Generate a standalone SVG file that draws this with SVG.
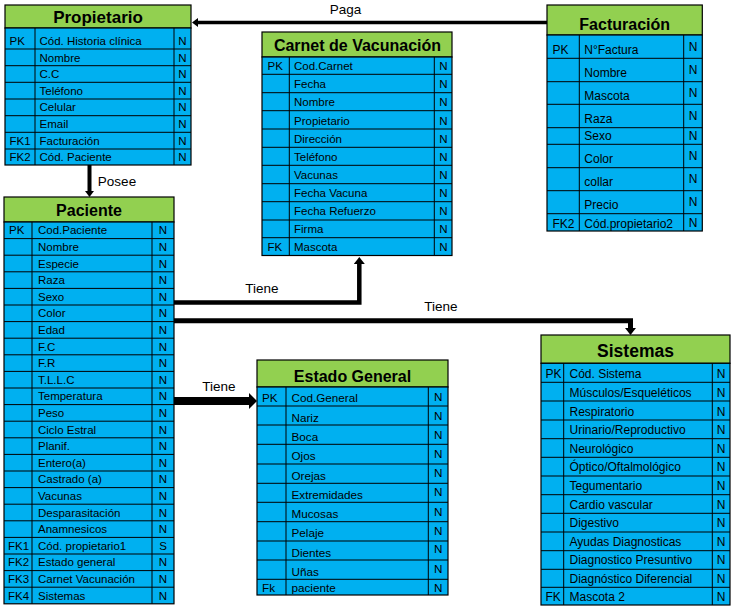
<svg xmlns="http://www.w3.org/2000/svg" width="738" height="613" viewBox="0 0 738 613">
<style>
.hd{fill:#92D050;stroke:#000;stroke-width:1.2}
.bd{fill:#00B0F0;stroke:#000;stroke-width:1.2}
.gl{fill:none;stroke:#000;stroke-width:1}
.tt{font-family:"Liberation Sans",Arial,sans-serif;font-weight:bold;font-size:16px;text-anchor:middle;fill:#000}
.tx{font-family:"Liberation Sans",Arial,sans-serif;font-size:11.5px;fill:#000}
.n{text-anchor:middle}
.cn{fill:none;stroke:#000}
.lb{font-family:"Liberation Sans",Arial,sans-serif;font-size:13.5px;fill:#000;text-anchor:middle}
</style>
<defs>
<marker id="aS" markerUnits="userSpaceOnUse" viewBox="0 0 6 9" markerWidth="6" markerHeight="9" refX="0" refY="4.5" orient="auto"><path d="M0,0L6,4.5L0,9z"/></marker>
<marker id="aM" markerUnits="userSpaceOnUse" viewBox="0 0 7 11" markerWidth="7" markerHeight="11" refX="0" refY="5.5" orient="auto"><path d="M0,0L7,5.5L0,11z"/></marker>
<marker id="aL" markerUnits="userSpaceOnUse" viewBox="0 0 8 16" markerWidth="8" markerHeight="16" refX="0" refY="8" orient="auto"><path d="M0,0L8,8L0,16z"/></marker>
</defs>

<g id="connectors">
<line class="cn" x1="547" y1="22.5" x2="198" y2="22.5" stroke-width="3.5" marker-end="url(#aS)"/>
<line class="cn" x1="89.5" y1="165" x2="89.5" y2="191" stroke-width="4" marker-end="url(#aS)"/>
<polyline class="cn" points="174,302.5 359.3,302.5 359.3,264" stroke-width="4.5" marker-end="url(#aM)"/>
<polyline class="cn" points="174,320.8 630.5,320.8 630.5,328" stroke-width="5" marker-end="url(#aM)"/>
<line class="cn" x1="174" y1="401" x2="249" y2="401" stroke-width="8" marker-end="url(#aL)"/>
<text class="lb" x="345.5" y="14">Paga</text>
<text class="lb" x="117" y="186">Posee</text>
<text class="lb" x="262" y="293">Tiene</text>
<text class="lb" x="441" y="311">Tiene</text>
<text class="lb" x="219" y="391">Tiene</text>
</g>

<g id="propietario">
<rect class="hd" x="5" y="5" width="186" height="23"/>
<rect class="bd" x="5" y="28" width="186" height="137"/>
<path class="gl" d="M5 49H191M5 65.7H191M5 82.3H191M5 99H191M5 115.7H191M5 132.3H191M5 149H191M35 28V165M174 28V165"/>
<text class="tt" x="98" y="23" style="font-size:17px">Propietario</text>
<g class="tx">
<text x="9.5" y="45">PK</text><text x="39.5" y="45">Cód. Historia clínica</text>
<text x="39.5" y="61.7">Nombre</text>
<text x="39.5" y="78">C.C</text>
<text x="39.5" y="94.7">Teléfono</text>
<text x="39.5" y="111.3">Celular</text>
<text x="39.5" y="128">Email</text>
<text x="9.5" y="144.7">FK1</text><text x="39.5" y="144.7">Facturación</text>
<text x="9.5" y="161.3">FK2</text><text x="39.5" y="161.3">Cód. Paciente</text>
</g>
<g class="tx n">
<text x="182.5" y="45">N</text><text x="182.5" y="61.7">N</text><text x="182.5" y="78">N</text><text x="182.5" y="94.7">N</text><text x="182.5" y="111.3">N</text><text x="182.5" y="128">N</text><text x="182.5" y="144.7">N</text><text x="182.5" y="161.3">N</text>
</g>
</g>

<g id="carnet">
<rect class="hd" x="262" y="32" width="190" height="25"/>
<rect class="bd" x="262" y="57" width="190" height="198.5"/>
<path class="gl" d="M262 74.3H452M262 92.7H452M262 110.7H452M262 129H452M262 147.3H452M262 165.3H452M262 183.7H452M262 201.7H452M262 220H452M262 237.7H452M289.3 57V255.5M434.3 57V255.5"/>
<text class="tt" x="357.5" y="51">Carnet de Vacunación</text>
<g class="tx">
<text x="267.5" y="70">PK</text><text x="294" y="70">Cod.Carnet</text>
<text x="294" y="88.3">Fecha</text>
<text x="294" y="106.3">Nombre</text>
<text x="294" y="124.7">Propietario</text>
<text x="294" y="143">Dirección</text>
<text x="294" y="161">Teléfono</text>
<text x="294" y="179">Vacunas</text>
<text x="294" y="197">Fecha Vacuna</text>
<text x="294" y="215">Fecha Refuerzo</text>
<text x="294" y="232.7">Firma</text>
<text x="267.5" y="250.7">FK</text><text x="294" y="250.7">Mascota</text>
</g>
<g class="tx n">
<text x="443.5" y="70">N</text><text x="443.5" y="88.3">N</text><text x="443.5" y="106.3">N</text><text x="443.5" y="124.7">N</text><text x="443.5" y="143">N</text><text x="443.5" y="161">N</text><text x="443.5" y="179">N</text><text x="443.5" y="197">N</text><text x="443.5" y="215">N</text><text x="443.5" y="232.7">N</text><text x="443.5" y="250.7">N</text>
</g>
</g>

<g id="facturacion">
<rect class="hd" x="547" y="5" width="155.3" height="30"/>
<rect class="bd" x="547" y="35" width="155.3" height="196"/>
<path class="gl" d="M547 58.3H702.3M547 81.7H702.3M547 104.3H702.3M547 127.7H702.3M547 144.3H702.3M547 167.7H702.3M547 190.7H702.3M547 213.7H702.3M579.3 35V231M683.7 35V231"/>
<text class="tt" x="624.7" y="30">Facturación</text>
<g class="tx" style="font-size:12px">
<text x="552.5" y="54">PK</text><text x="584.3" y="54">N°Factura</text>
<text x="584.3" y="76.7">Nombre</text>
<text x="584.3" y="100">Mascota</text>
<text x="584.3" y="123">Raza</text>
<text x="584.3" y="140">Sexo</text>
<text x="584.3" y="163">Color</text>
<text x="584.3" y="185.7">collar</text>
<text x="584.3" y="208.7">Precio</text>
<text x="552.5" y="228">FK2</text><text x="584.3" y="228">Cód.propietario2</text>
</g>
<g class="tx n" style="font-size:12px">
<text x="693" y="50.7">N</text><text x="693" y="74">N</text><text x="693" y="97.3">N</text><text x="693" y="120">N</text><text x="693" y="140">N</text><text x="693" y="160">N</text><text x="693" y="183">N</text><text x="693" y="205.7">N</text><text x="693" y="226.7">N</text>
</g>
</g>

<g id="paciente">
<rect class="hd" x="4" y="197" width="170" height="25"/>
<rect class="bd" x="4" y="222" width="170" height="381.8"/>
<path class="gl" d="M4 238.6H174M4 255.2H174M4 271.8H174M4 288.4H174M4 305H174M4 321.6H174M4 338.2H174M4 354.8H174M4 371.4H174M4 388H174M4 404.6H174M4 421.2H174M4 437.8H174M4 454.4H174M4 471H174M4 487.6H174M4 504.2H174M4 520.8H174M4 537.4H174M4 554H174M4 570.6H174M4 587.2H174M32 222V603.8M152 222V603.8"/>
<text class="tt" x="89" y="215.7">Paciente</text>
<g class="tx">
<text x="9" y="234.3">PK</text><text x="38" y="234.3">Cod.Paciente</text>
<text x="38" y="250.9">Nombre</text>
<text x="38" y="267.5">Especie</text>
<text x="38" y="284.1">Raza</text>
<text x="38" y="300.7">Sexo</text>
<text x="38" y="317.3">Color</text>
<text x="38" y="333.9">Edad</text>
<text x="38" y="350.5">F.C</text>
<text x="38" y="367.1">F.R</text>
<text x="38" y="383.7">T.L.L.C</text>
<text x="38" y="400.3">Temperatura</text>
<text x="38" y="416.9">Peso</text>
<text x="38" y="433.5">Ciclo Estral</text>
<text x="38" y="450.1">Planif.</text>
<text x="38" y="466.7">Entero(a)</text>
<text x="38" y="483.3">Castrado (a)</text>
<text x="38" y="499.9">Vacunas</text>
<text x="38" y="516.5">Desparasitación</text>
<text x="38" y="533.1">Anamnesicos</text>
<text x="8" y="549.7">FK1</text><text x="38" y="549.7">Cód. propietario1</text>
<text x="8" y="566.3">FK2</text><text x="38" y="566.3">Estado general</text>
<text x="8" y="582.9">FK3</text><text x="38" y="582.9">Carnet Vacunación</text>
<text x="8" y="599.5">FK4</text><text x="38" y="599.5">Sistemas</text>
</g>
<g class="tx n">
<text x="163" y="234.3">N</text><text x="163" y="250.9">N</text><text x="163" y="267.5">N</text><text x="163" y="284.1">N</text><text x="163" y="300.7">N</text><text x="163" y="317.3">N</text><text x="163" y="333.9">N</text><text x="163" y="350.5">N</text><text x="163" y="367.1">N</text><text x="163" y="383.7">N</text><text x="163" y="400.3">N</text><text x="163" y="416.9">N</text><text x="163" y="433.5">N</text><text x="163" y="450.1">N</text><text x="163" y="466.7">N</text><text x="163" y="483.3">N</text><text x="163" y="499.9">N</text><text x="163" y="516.5">N</text><text x="163" y="533.1">N</text><text x="163" y="549.7">S</text><text x="163" y="566.3">N</text><text x="163" y="582.9">N</text><text x="163" y="599.5">N</text>
</g>
</g>

<g id="estado-general">
<rect class="hd" x="257" y="360" width="191" height="27"/>
<rect class="bd" x="257" y="387" width="191" height="208"/>
<path class="gl" d="M257 406H448M257 425H448M257 444.3H448M257 464H448M257 483.3H448M257 502.3H448M257 521.7H448M257 541H448M257 560H448M257 579.3H448M286 387V595M428.3 387V595"/>
<text class="tt" x="352.5" y="381.7">Estado General</text>
<g class="tx" style="font-size:11.7px">
<text x="262" y="402.3">PK</text><text x="291.5" y="402.3">Cod.General</text>
<text x="291.5" y="421.7">Nariz</text>
<text x="291.5" y="440.7">Boca</text>
<text x="291.5" y="459.7">Ojos</text>
<text x="291.5" y="479.7">Orejas</text>
<text x="291.5" y="499">Extremidades</text>
<text x="291.5" y="518.3">Mucosas</text>
<text x="291.5" y="537.3">Pelaje</text>
<text x="291.5" y="556.7">Dientes</text>
<text x="291.5" y="575.7">Uñas</text>
<text x="262" y="591.7">Fk</text><text x="291.5" y="591.7">paciente</text>
</g>
<g class="tx n" style="font-size:11.7px">
<text x="438.2" y="400.7">N</text><text x="438.2" y="420">N</text><text x="438.2" y="439">N</text><text x="438.2" y="458">N</text><text x="438.2" y="477.3">N</text><text x="438.2" y="496.3">N</text><text x="438.2" y="515.7">N</text><text x="438.2" y="534.7">N</text><text x="438.2" y="553.3">N</text><text x="438.2" y="573.3">N</text><text x="438.2" y="591.7">N</text>
</g>
</g>

<g id="sistemas">
<rect class="hd" x="541" y="335" width="189" height="28.3"/>
<rect class="bd" x="541" y="363.3" width="189" height="241.7"/>
<path class="gl" d="M541 382.3H730M541 401H730M541 420H730M541 438.7H730M541 457.3H730M541 476H730M541 494.7H730M541 513.3H730M541 532H730M541 550.7H730M541 569.3H730M541 587.3H730M563.7 363.3V605M712.3 363.3V605"/>
<text class="tt" x="635.5" y="356.7" style="font-size:17.5px">Sistemas</text>
<g class="tx" style="font-size:12px">
<text x="545.5" y="378">PK</text><text x="569.5" y="378">Cód. Sistema</text>
<text x="569.5" y="396.7">Músculos/Esqueléticos</text>
<text x="569.5" y="415.7">Respiratorio</text>
<text x="569.5" y="434">Urinario/Reproductivo</text>
<text x="569.5" y="453">Neurológico</text>
<text x="569.5" y="471">Óptico/Oftalmológico</text>
<text x="569.5" y="490">Tegumentario</text>
<text x="569.5" y="509">Cardio vascular</text>
<text x="569.5" y="527.3">Digestivo</text>
<text x="569.5" y="546">Ayudas Diagnosticas</text>
<text x="569.5" y="564">Diagnostico Presuntivo</text>
<text x="569.5" y="582.7">Diagnóstico Diferencial</text>
<text x="545.5" y="600.7">FK</text><text x="569.5" y="600.7">Mascota 2</text>
</g>
<g class="tx n" style="font-size:12px">
<text x="721" y="378">N</text><text x="721" y="396.7">N</text><text x="721" y="415.7">N</text><text x="721" y="434">N</text><text x="721" y="453">N</text><text x="721" y="471">N</text><text x="721" y="490">N</text><text x="721" y="509">N</text><text x="721" y="527.3">N</text><text x="721" y="546">N</text><text x="721" y="564">N</text><text x="721" y="582.7">N</text><text x="721" y="600.7">N</text>
</g>
</g>
</svg>
